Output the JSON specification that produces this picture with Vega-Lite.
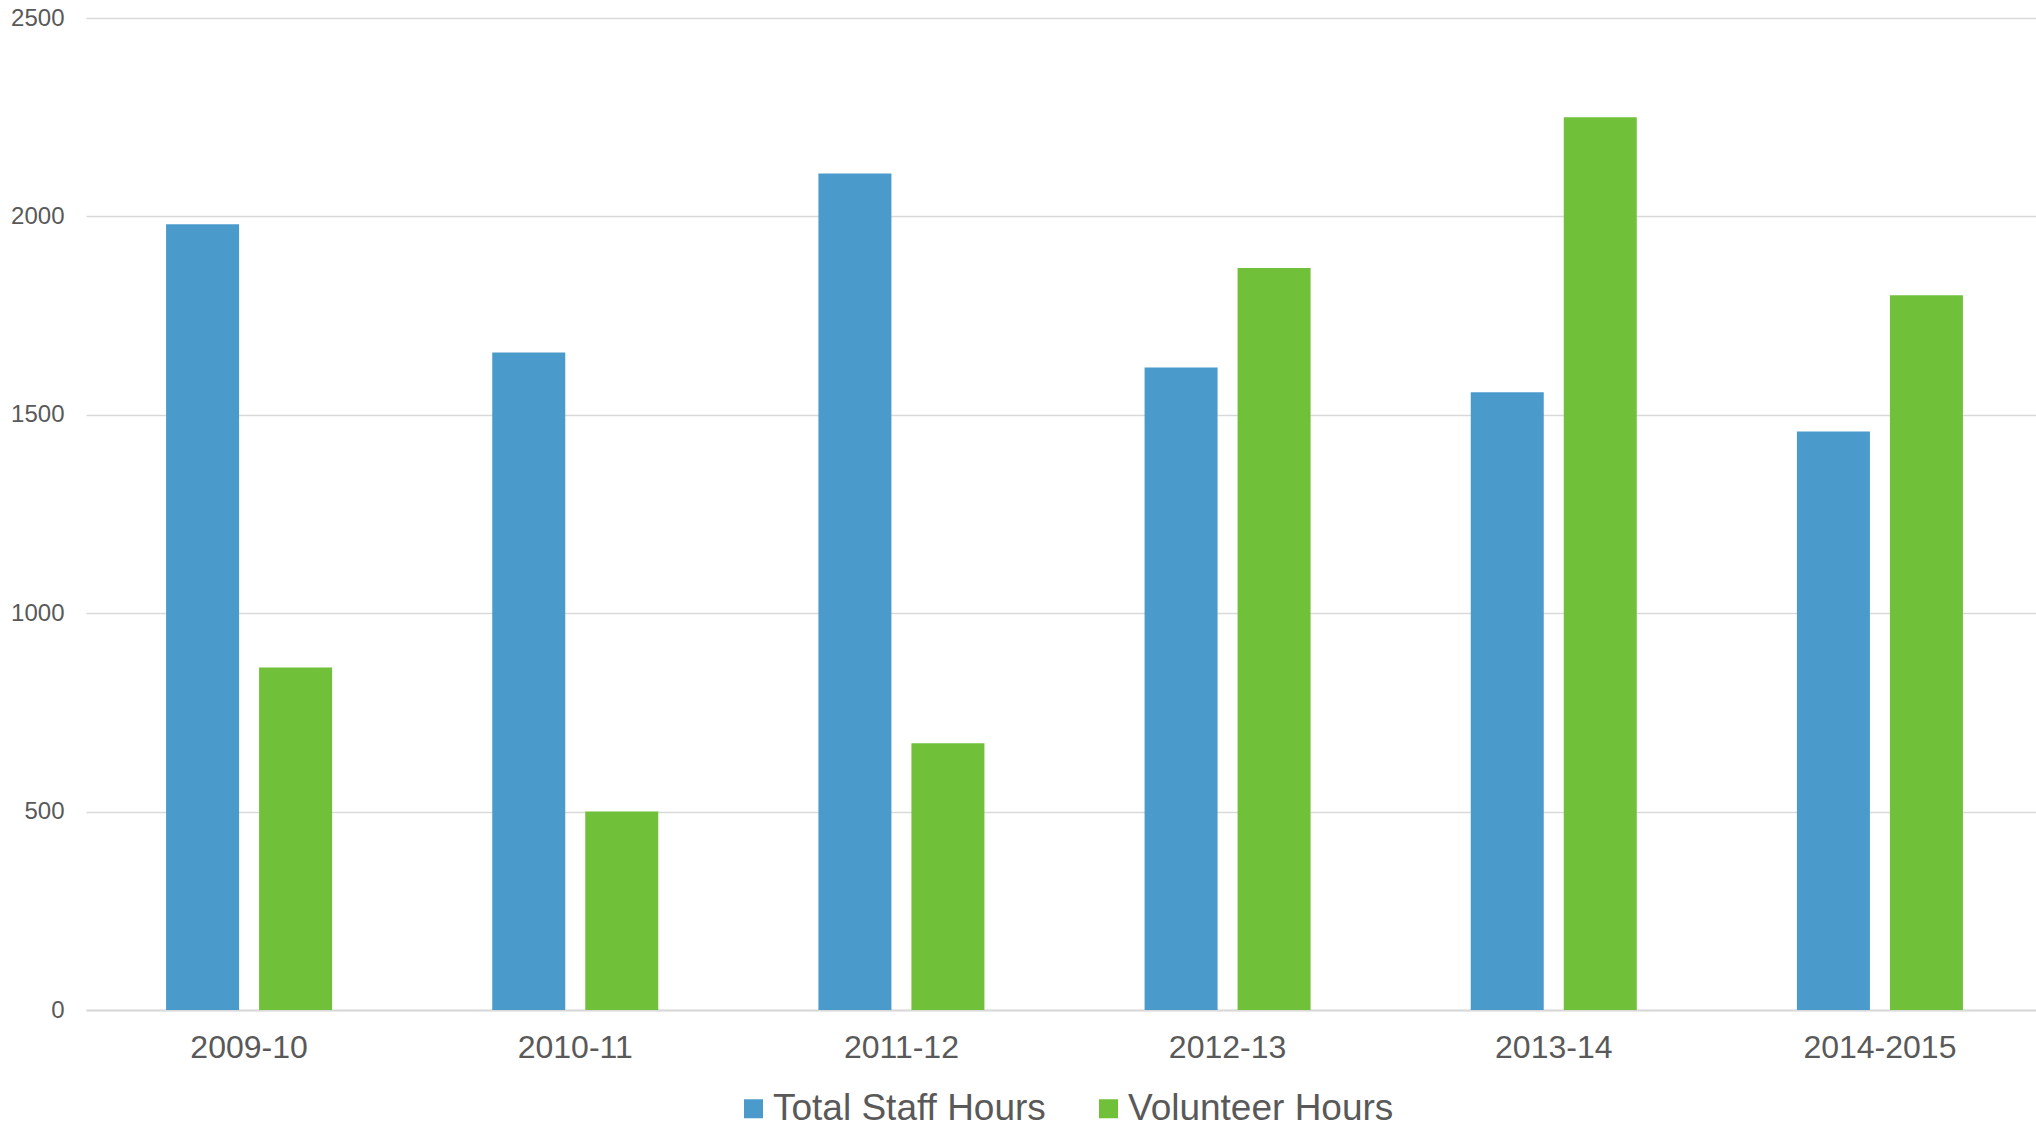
{
  "$schema": "https://vega.github.io/schema/vega-lite/v6.json",
  "autosize": {"type": "none"},
  "padding": {"left": 86, "top": 18, "right": 0, "bottom": 120},
  "width": 1957,
  "height": 992,
  "background": "#ffffff",
  "data": {
    "values": [
      {"year": "2009-10", "series": "Total Staff Hours", "hours": 1980},
      {"year": "2009-10", "series": "Volunteer Hours", "hours": 863},
      {"year": "2010-11", "series": "Total Staff Hours", "hours": 1657},
      {"year": "2010-11", "series": "Volunteer Hours", "hours": 500},
      {"year": "2011-12", "series": "Total Staff Hours", "hours": 2108},
      {"year": "2011-12", "series": "Volunteer Hours", "hours": 672},
      {"year": "2012-13", "series": "Total Staff Hours", "hours": 1619},
      {"year": "2012-13", "series": "Volunteer Hours", "hours": 1870},
      {"year": "2013-14", "series": "Total Staff Hours", "hours": 1557},
      {"year": "2013-14", "series": "Volunteer Hours", "hours": 2250},
      {"year": "2014-2015", "series": "Total Staff Hours", "hours": 1458},
      {"year": "2014-2015", "series": "Volunteer Hours", "hours": 1801}
    ]
  },
  "mark": {"type": "bar"},
  "encoding": {
    "x": {
      "field": "year",
      "type": "nominal",
      "sort": null,
      "scale": {"paddingInner": 0.491, "paddingOuter": 0.2455},
      "axis": {
        "title": null,
        "labelAngle": 0,
        "ticks": false,
        "domain": true,
        "domainColor": "#d9d9d9",
        "domainWidth": 2,
        "labelFont": "Liberation Sans",
        "labelFontSize": 32,
        "labelColor": "#595959",
        "labelPadding": 22,
        "grid": false
      }
    },
    "xOffset": {
      "field": "series",
      "type": "nominal",
      "scale": {"paddingInner": 0.215, "paddingOuter": 0}
    },
    "y": {
      "field": "hours",
      "type": "quantitative",
      "scale": {"domain": [0, 2500], "nice": false},
      "axis": {
        "title": null,
        "values": [0, 500, 1000, 1500, 2000, 2500],
        "format": "d",
        "ticks": false,
        "domain": false,
        "grid": true,
        "gridColor": "#d9d9d9",
        "gridWidth": 1.5,
        "labelFont": "Liberation Sans",
        "labelFontSize": 24,
        "labelColor": "#595959",
        "labelPadding": 22
      }
    },
    "color": {
      "field": "series",
      "type": "nominal",
      "scale": {
        "domain": ["Total Staff Hours", "Volunteer Hours"],
        "range": ["#4a9bcb", "#70c03a"]
      },
      "legend": {
        "title": null,
        "orient": "bottom",
        "direction": "horizontal",
        "symbolType": "square",
        "symbolSize": 361,
        "symbolStrokeWidth": 0,
        "labelFont": "Liberation Sans",
        "labelFontSize": 37,
        "labelColor": "#595959",
        "labelLimit": 0,
        "labelOffset": 1,
        "columnPadding": 44,
        "offset": 27
      }
    }
  },
  "config": {
    "view": {"stroke": null},
    "legend": {"layout": {"bottom": {"anchor": "middle"}}}
  }
}
